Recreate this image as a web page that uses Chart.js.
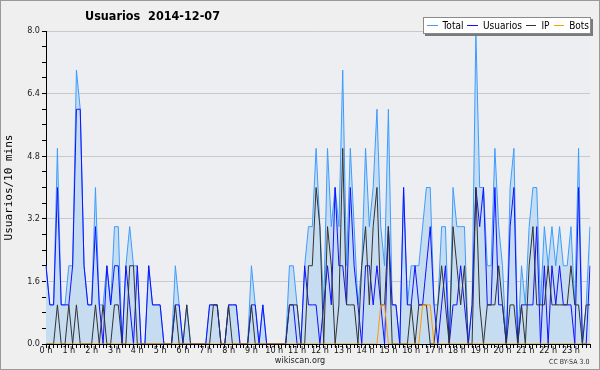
<!DOCTYPE html>
<html><head><meta charset="utf-8">
<script src="https://cdn.jsdelivr.net/npm/chart.js@4.4.1/dist/chart.umd.min.js"></script>
<style>
html,body{margin:0;padding:0;background:#efefef;}
#wrap{position:relative;width:600px;height:370px;background:#efefef;overflow:hidden;}
#c{position:absolute;left:0;top:0;}
#frame{position:absolute;left:0;top:0;width:600px;height:370px;box-sizing:border-box;border:1px solid #9a9a9a;pointer-events:none;}
#title{position:absolute;left:85px;top:8px;font:bold 12.5px 'DejaVu Sans Condensed','DejaVu Sans',sans-serif;color:#000;white-space:pre;}
#legend{position:absolute;left:423px;top:17px;width:166px;height:15px;background:#fff;border:1px solid #8a8a8a;box-shadow:2px 2px 0 #7a7a7a;display:flex;align-items:center;font:10px 'DejaVu Sans Condensed','DejaVu Sans',sans-serif;color:#000;white-space:nowrap;}
#legend .ln{display:inline-block;width:11px;height:1px;margin-left:3px;margin-right:5px;}
#legend .tx{margin-right:1px;}
#site{position:absolute;left:0;width:600px;top:355px;text-align:center;font:9px 'DejaVu Sans Condensed','DejaVu Sans',sans-serif;color:#222;}
#lic{position:absolute;left:549px;top:358px;font:7px 'DejaVu Sans Condensed','DejaVu Sans',sans-serif;color:#333;}
</style></head>
<body>
<div id="wrap">
<canvas id="c" width="600" height="370"></canvas>
<div id="title">Usuarios  2014-12-07</div>
<div id="legend"></div>
<div id="site">wikiscan.org</div>
<div id="lic">CC BY-SA 3.0</div>
<div id="frame"></div>
</div>
<script>
const hourLabels = ['0 h','1 h','2 h','3 h','4 h','5 h','6 h','7 h','8 h','9 h','10 h','11 h','12 h','13 h','14 h','15 h','16 h','17 h','18 h','19 h','20 h','21 h','22 h','23 h'];
const slotMinutes = ['00','10','20','30','40','50'];
const seriesNames = ['Total','Usuarios','IP','Bots'];
const seriesColors = ['#3d9cff','#1010ff','#333333','#ff9a00'];

const total = [
 2,1,1,5,1,1,2,2,7,6,
 2,1,1,4,1,1,2,1,3,3,
 0,2,3,2,2,0,0,2,1,1,
 1,0,0,0,2,1,0,1,0,0,
 0,0,0,1,1,1,0,0,1,1,
 1,0,0,0,2,1,0,1,0,0,
 0,0,0,0,2,2,1,0,2,3,
 3,5,3,1,5,3,4,3,7,2,
 5,3,1,2,5,3,4,6,3,2,
 6,1,1,0,4,1,2,2,2,3,
 4,4,1,1,3,3,0,4,3,3,
 3,0,1,8,4,4,2,2,5,3,
 2,0,4,5,0,2,1,3,4,4,
 1,3,2,3,2,3,2,2,3,1,
 5,0,1,3];
const usuarios = [
 2,1,1,4,1,1,1,2,6,6,
 2,1,1,3,1,0,2,1,2,2,
 0,2,1,0,2,0,0,2,1,1,
 1,0,0,0,1,1,0,0,0,0,
 0,0,0,1,1,1,0,0,1,1,
 1,0,0,0,1,1,0,1,0,0,
 0,0,0,0,1,1,0,0,2,1,
 1,1,0,1,2,1,4,2,2,1,
 4,2,1,0,2,2,1,2,1,0,
 3,1,1,0,4,1,1,2,1,1,
 2,3,1,0,1,2,0,1,1,2,
 1,0,1,4,3,4,1,1,4,1,
 1,0,3,4,0,1,1,1,1,3,
 0,2,0,2,1,2,1,1,1,0,
 4,0,0,2];
const ip = [
 0,0,0,1,0,0,1,0,1,0,
 0,0,0,1,0,1,0,0,1,1,
 0,0,2,2,0,0,0,0,0,0,
 0,0,0,0,1,0,0,1,0,0,
 0,0,0,0,1,1,0,0,1,0,
 0,0,0,0,1,0,0,0,0,0,
 0,0,0,0,1,1,1,0,0,2,
 2,4,3,0,3,2,0,1,5,1,
 1,1,0,2,3,1,3,4,1,1,
 3,0,0,0,0,0,1,0,1,1,
 1,0,0,1,2,1,0,3,2,1,
 2,0,0,4,1,0,1,1,1,2,
 1,0,1,1,0,1,0,2,3,1,
 1,1,2,1,1,1,1,1,2,1,
 1,0,1,1];
const bots = [
 0,0,0,0,0,0,0,0,0,0,
 0,0,0,0,0,0,0,0,0,0,
 0,0,0,0,0,0,0,0,0,0,
 0,0,0,0,0,0,0,0,0,0,
 0,0,0,0,0,0,0,0,0,0,
 0,0,0,0,0,0,0,0,0,0,
 0,0,0,0,0,0,0,0,0,0,
 0,0,0,0,0,0,0,0,0,0,
 0,0,0,0,0,0,0,0,1,1,
 0,0,0,0,0,0,0,0,0,1,
 1,1,0,0,0,0,0,0,0,0,
 0,0,0,0,0,0,0,0,0,0,
 0,0,0,0,0,0,0,0,0,0,
 0,0,0,0,0,0,0,0,0,0,
 0,0,0,0];
const yMajorStep = 1.6;

const categories = [];
hourLabels.forEach((h,k)=>slotMinutes.forEach(m=>categories.push(k+':'+m)));

const isMajor = v => Math.abs(v/yMajorStep - Math.round(v/yMajorStep)) < 1e-6;
const FONT = "'DejaVu Sans Condensed','DejaVu Sans',sans-serif";

const plotBg = {id:'plotBg', beforeDraw(chart){const {ctx,chartArea:a}=chart;ctx.save();ctx.fillStyle='#eceef1';ctx.fillRect(a.left,a.top,a.right-a.left,a.bottom-a.top);ctx.restore();}};

const values = [total, usuarios, ip, bots];
const datasets = values.map((d,k)=>({
  label: seriesNames[k], data: d, borderColor: seriesColors[k], borderWidth: 1,
  pointRadius: 0, tension: 0, fill: k===0 ? 'origin' : false,
  backgroundColor: k===0 ? '#c6dcf0' : seriesColors[k],
  order: 4-k
}));

new Chart(document.getElementById('c'), {
  type:'line',
  data:{labels:categories, datasets},
  plugins:[plotBg],
  options:{
    responsive:false, animation:false, devicePixelRatio:1,
    layout:{padding:{top:31,right:10,bottom:0,left:0}},
    plugins:{legend:{display:false}, tooltip:{enabled:false}, title:{display:false}},
    scales:{
      x:{
        offset:false,
        grid:{drawOnChartArea:false, drawTicks:true, tickLength:4, tickColor:'#000'},
        border:{color:'#000'},
        ticks:{autoSkip:false, maxRotation:0, minRotation:0, padding:-3, color:'#111',
          font:{size:9, family:FONT},
          callback:(v,i)=> i%6===0 ? hourLabels[i/6] : ''},
        afterFit:s=>{s.height=26;}
      },
      y:{
        min:0, max:8,
        grid:{color:c=> isMajor(c.tick.value) ? '#c9c9c9' : 'rgba(0,0,0,0)', tickColor:'#000', tickLength:4},
        border:{color:'#000'},
        ticks:{stepSize:0.4, autoSkip:false, padding:2, color:'#222', font:{size:9, family:FONT},
          callback:v=> isMajor(v) ? v.toFixed(1) : ''},
        title:{display:true, text:'Usuarios/10 mins', color:'#000', font:{size:11, family:"'DejaVu Sans Mono',monospace"}, padding:{top:3,bottom:0}},
        afterFit:s=>{s.width=46;}
      }
    }
  }
});

const lg = document.getElementById('legend');
seriesNames.forEach((n,k)=>{
  const l=document.createElement('span'); l.className='ln'; l.style.background=seriesColors[k]; lg.appendChild(l);
  const t=document.createElement('span'); t.className='tx'; t.textContent=n; lg.appendChild(t);
});
</script>
</body></html>
